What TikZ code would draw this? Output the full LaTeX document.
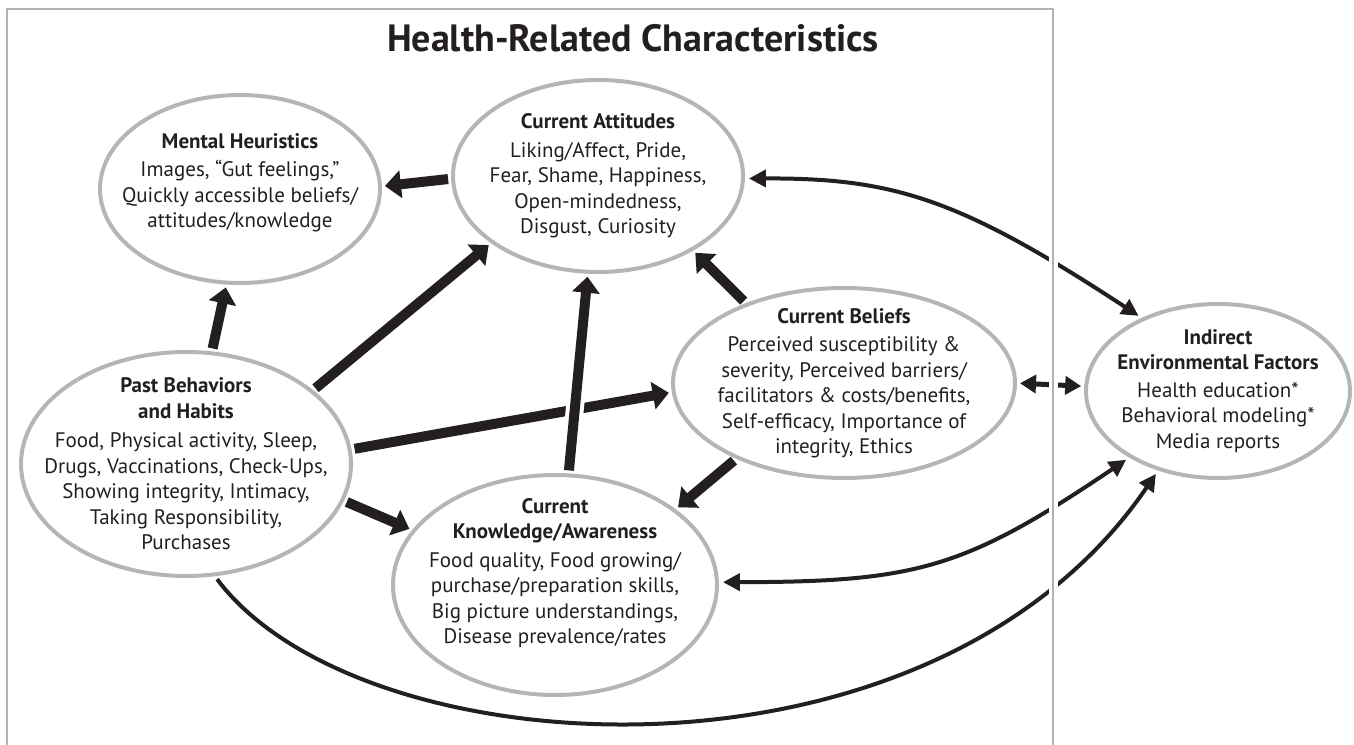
\documentclass[tikz,border=0pt]{standalone}
\usepackage{fontspec}
\setmainfont{PT Sans}
\usetikzlibrary{arrows.meta,shapes.geometric}
\definecolor{ringgray}{HTML}{B4B5B8}
\definecolor{framegray}{HTML}{B2B2B2}
\definecolor{inkblack}{HTML}{231F20}
\begin{document}
\begin{tikzpicture}[line join=bevel,
  factor/.style={ellipse,draw=ringgray,line width=4bp,inner sep=-40bp,outer sep=0pt,
    align=center,text=inkblack,font=\fontsize{21bp}{25.5bp}\selectfont},
  bigarrow/.style={inkblack,line width=10bp,>={Triangle[length=16bp,width=27bp]},->,
    shorten <=5bp,shorten >=5bp},
  midarrow/.style={inkblack,line width=5bp,>={Triangle[length=16bp,width=18bp]},<->,
    shorten <=5bp,shorten >=5bp},
  linkarrow/.style={inkblack,line width=4bp,>={Triangle[length=17bp,width=17bp]},
    shorten <=6bp,shorten >=6bp},
  crossover/.style={preaction={draw=white,line width=18bp,-}},
]
\useasboundingbox (0bp,0bp) rectangle (1354bp,745bp);
%%
\draw [framegray,line width=2bp] (7bp,0bp) -- (7bp,736bp) -- (1053bp,736bp) -- (1053bp,0bp);
\node (node_title) at (633bp,693bp) [anchor=base,text=inkblack,font=\fontsize{38bp}{42bp}\selectfont\bfseries] {Health-Related Characteristics};
%
\node (node_mental) at (240bp,556bp) [factor,minimum width=280bp,minimum height=188bp] {\textbf{Mental Heuristics}\\[3bp] Images, “Gut feelings,”\\ Quickly accessible beliefs/\\ attitudes/knowledge\rule[-17bp]{0pt}{0pt}};
  \node (node_att) at (598bp,569bp) [factor,minimum width=290bp,minimum height=192bp] {\textbf{Current Attitudes}\\[3bp] Liking/Affect, Pride,\\ Fear, Shame, Happiness,\\ Open-mindedness,\\ Disgust, Curiosity};
  \node (node_beliefs) at (844bp,362bp) [factor,minimum width=342bp,minimum height=190bp] {\textbf{Current Beliefs}\\[3bp] Perceived susceptibility \&\\ severity, Perceived barriers/\\ facilitators \& costs/benefits,\\ Self-efficacy, Importance of\\ integrity, Ethics};
  \node (node_env) at (1218bp,354bp) [factor,minimum width=264bp,minimum height=174bp] {\textbf{Indirect}\\ \textbf{Environmental Factors}\\[2bp] Health education*\\ Behavioral modeling*\\ Media reports};
  \node (node_past) at (186bp,281bp) [factor,minimum width=330bp,minimum height=224bp] {\textbf{Past Behaviors}\\ \textbf{and Habits}\\[4bp] Food, Physical activity, Sleep,\\ Drugs, Vaccinations, Check-Ups,\\ Showing integrity, Intimacy,\\ Taking Responsibility,\\ Purchases};
  \node (node_know) at (555bp,160bp) [factor,minimum width=324bp,minimum height=220bp] {\textbf{Current}\\ \textbf{Knowledge/Awareness}\\[3bp] Food quality, Food growing/\\ purchase/preparation skills,\\ Big picture understandings,\\ Disease prevalence/rates\rule[-28bp]{0pt}{0pt}};
%
\draw [bigarrow] (node_att.181) -- (node_mental.1);
  \draw [bigarrow] (node_past.77) -- (node_mental.262);
  \draw [bigarrow] (node_past.30) -- (node_att.212);
  \draw [bigarrow] (node_past.5) -- (node_beliefs.183);
  \draw [bigarrow] (node_past.-13) -- (node_know.159);
  \draw [bigarrow] (node_beliefs.141) -- (node_att.322);
  \draw [bigarrow] (node_beliefs.215) -- (node_know.32);
  \draw [bigarrow,crossover] (node_know.83) -- (node_att.264);
  \draw [midarrow] (node_beliefs.0) -- (node_env.178);
  \draw [linkarrow,<->] (node_att.-1) ..controls (893bp,567bp) and (959bp,547bp) .. (node_env.136);
  \draw [linkarrow,<->] (node_know.1) ..controls (917bp,163bp) and (965bp,176.5bp) .. (node_env.217);
  \draw [linkarrow,->] (node_past.-76) ..controls (360bp,-25bp) and (930bp,-60bp) .. (node_env.233);
%
\draw [white,line width=9bp] (1053bp,0bp) -- (1053bp,728bp);
  \draw [framegray,line width=2bp] (1053bp,0bp) -- (1053bp,736bp);
%
\end{tikzpicture}
\end{document}
